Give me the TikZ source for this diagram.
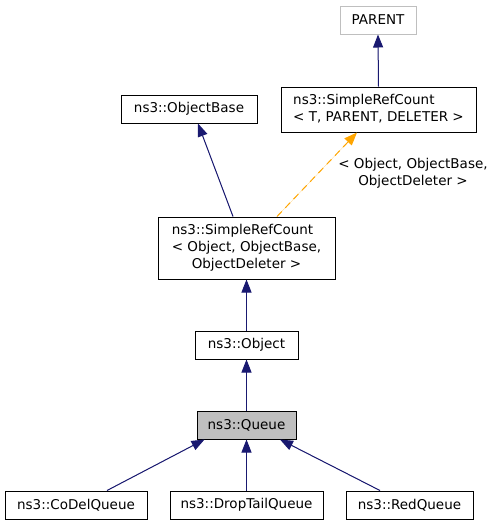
\documentclass[tikz,border=0pt]{standalone}
\usepackage{fontspec}
\setmainfont{DejaVu Sans}
\usetikzlibrary{arrows.meta}
\definecolor{edgeblue}{HTML}{191970}
\definecolor{edgeorange}{HTML}{FFA500}
\definecolor{boxgray}{HTML}{BFBFBF}
\begin{document}
\begin{tikzpicture}[x=1pt,y=-1pt,
  font=\fontsize{13.5}{17}\selectfont,
  cls/.style={draw=black, line width=1pt, fill=white, inner sep=0pt, minimum height=28pt},
  inh/.style={draw=edgeblue, line width=1pt, -{Triangle[length=13pt,width=10pt]}, fill=edgeblue},
  tmpl/.style={draw=edgeorange, line width=1pt, dash pattern=on 7pt off 5pt, -{Triangle[length=13pt,width=10pt]}, fill=edgeorange}
]
\useasboundingbox (0,0) rectangle (497,525);
\node[cls, draw=boxgray, minimum width=76pt] (parent) at (378,20) {PARENT};
\node[cls, minimum width=195pt, minimum height=45pt] (srt) at (378.5,109.5)
  {\begin{tabular}{@{}l@{}}ns3::SimpleRefCount\\ < T, PARENT, DELETER >\end{tabular}};
\node[cls, minimum width=136pt] (objbase) at (189,109) {ns3::ObjectBase};
\node[cls, minimum width=177pt, minimum height=62pt] (sro) at (246.5,248)
  {\begin{tabular}{@{}l@{}}ns3::SimpleRefCount\\ < Object, ObjectBase,\\ \multicolumn{1}{@{}c@{}}{ObjectDeleter >}\end{tabular}};
\node[cls, minimum width=103pt] (object) at (246.5,345) {ns3::Object};
\node[cls, fill=boxgray, minimum width=99pt] (queue) at (246.5,425) {ns3::Queue};
\node[cls, minimum width=142pt] (codel) at (76,505) {ns3::CoDelQueue};
\node[cls, minimum width=153pt] (droptail) at (246.5,505) {ns3::DropTailQueue};
\node[cls, minimum width=127pt] (red) at (409.5,505) {ns3::RedQueue};
\node[align=center, inner sep=0pt] (lbl) at (413,173.5) {< Object, ObjectBase,\\ ObjectDeleter >};

\draw[inh] (srt.north) -- (parent.south);
\draw[inh] ([xshift=-13.5pt]sro.north) -- ([xshift=9pt]objbase.south);
\draw[tmpl] ([xshift=30.5pt]sro.north) -- ([xshift=-21.5pt]srt.south);
\draw[inh] (object.north) -- (sro.south);
\draw[inh] (queue.north) -- (object.south);
\draw[inh] ([xshift=31pt]codel.north) -- ([xshift=-42pt]queue.south);
\draw[inh] (droptail.north) -- (queue.south);
\draw[inh] ([xshift=-29.5pt]red.north) -- ([xshift=33.5pt]queue.south);
\end{tikzpicture}
\end{document}
